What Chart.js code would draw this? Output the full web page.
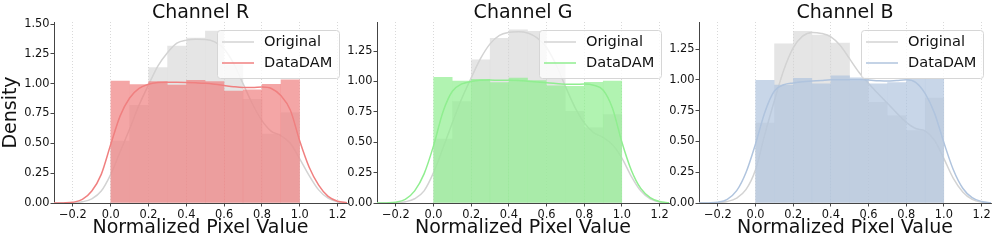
<!DOCTYPE html>
<html>
<head>
<meta charset="utf-8">
<script src="https://cdn.jsdelivr.net/npm/chart.js@4.4.1/dist/chart.umd.min.js"></script>
<style>
  html, body { margin: 0; padding: 0; background: #ffffff; width: 997px; height: 243px; overflow: hidden; }
  .panel { position: absolute; top: 0; height: 243px; }
  canvas { display: block; }
</style>
</head>
<body>
<div class="panel" style="left:0px;width:360px"><canvas id="c0" width="360" height="243"></canvas></div>
<div class="panel" style="left:327px;width:360px"><canvas id="c1" width="360" height="243"></canvas></div>
<div class="panel" style="left:649px;width:348px"><canvas id="c2" width="348" height="243"></canvas></div>
<script>
// ---------------- DATA ----------------
const channelTitles = ['Channel R', 'Channel G', 'Channel B'];
const seriesLabels = ['Original', 'DataDAM'];
const xAxisTitle = 'Normalized Pixel Value';
const yAxisTitle = 'Density';

const xTickValues = [-0.2, 0.0, 0.2, 0.4, 0.6, 0.8, 1.0, 1.2];
const yTickValuesR = [0, 0.25, 0.5, 0.75, 1.0, 1.25, 1.5];
const yTickValuesG = [0, 0.25, 0.5, 0.75, 1.0, 1.25];
const yTickValuesB = [0, 0.25, 0.5, 0.75, 1.0, 1.25];

// histogram bins (width 0.1, centers)
const binCenters = [0.05, 0.15, 0.25, 0.35, 0.45, 0.55, 0.65, 0.75, 0.85, 0.95];

const histOriginalR = [0.52, 0.82, 1.137, 1.316, 1.383, 1.442, 1.16, 0.87, 0.58, 0.757];
const histDataDamR  = [1.023, 0.995, 1.02, 0.99, 1.03, 1.02, 0.94, 0.95, 0.997, 1.033];
const histOriginalG = [0.528, 0.837, 1.18, 1.357, 1.426, 1.415, 1.15, 0.757, 0.62, 0.73];
const histDataDamG  = [1.036, 1.006, 1.02, 0.992, 1.03, 1.01, 0.967, 0.962, 0.995, 1.006];
const histOriginalB = [0.65, 1.295, 1.396, 1.366, 1.30, 0.99, 0.82, 0.71, 0.59, 0.854];
const histDataDamB  = [0.997, 0.96, 1.013, 0.97, 1.035, 1.019, 0.97, 0.98, 1.008, 1.013];

// KDE sample positions
const kdeX = [-0.3, -0.25, -0.2, -0.15, -0.1, -0.05, 0.0, 0.05, 0.1, 0.15, 0.2, 0.25, 0.3, 0.35, 0.4, 0.45,
              0.5, 0.55, 0.6, 0.65, 0.7, 0.75, 0.8, 0.85, 0.9, 0.95, 1.0, 1.05, 1.1, 1.15, 1.2, 1.25];

const kdeOriginalR = [0, 0, 0.002, 0.01, 0.035, 0.1, 0.24, 0.43, 0.62, 0.82, 0.99, 1.15, 1.26, 1.34, 1.365, 1.372,
                      1.37, 1.35, 1.29, 1.17, 1.0, 0.83, 0.69, 0.6, 0.565, 0.5, 0.37, 0.23, 0.11, 0.04, 0.01, 0.002];
const kdeDataDamR  = [0, 0.001, 0.006, 0.03, 0.1, 0.24, 0.49, 0.73, 0.88, 0.96, 0.995, 1.01, 1.013, 1.012, 1.01, 1.007,
                      1.003, 0.995, 0.985, 0.975, 0.968, 0.967, 0.972, 0.96, 0.9, 0.78, 0.52, 0.30, 0.15, 0.055, 0.015, 0.003];
const kdeOriginalG = [0, 0, 0.002, 0.01, 0.035, 0.1, 0.25, 0.45, 0.66, 0.86, 1.03, 1.19, 1.31, 1.38, 1.405, 1.41,
                      1.40, 1.36, 1.28, 1.14, 0.96, 0.79, 0.66, 0.58, 0.54, 0.48, 0.37, 0.22, 0.10, 0.035, 0.008, 0.001];
const kdeDataDamG  = [0, 0.001, 0.006, 0.03, 0.1, 0.24, 0.47, 0.75, 0.92, 0.98, 1.0, 1.01, 1.012, 1.01, 1.01, 1.008,
                      1.003, 0.997, 0.99, 0.983, 0.978, 0.977, 0.98, 0.97, 0.93, 0.78, 0.50, 0.27, 0.12, 0.045, 0.012, 0.003];
const kdeOriginalB = [0, 0, 0.003, 0.012, 0.04, 0.11, 0.27, 0.56, 0.83, 1.08, 1.26, 1.355, 1.385, 1.377, 1.35, 1.28,
                      1.17, 1.06, 0.97, 0.89, 0.81, 0.73, 0.655, 0.605, 0.585, 0.51, 0.36, 0.20, 0.09, 0.03, 0.007, 0.001];
const kdeDataDamB  = [0, 0.001, 0.006, 0.03, 0.1, 0.25, 0.48, 0.74, 0.91, 0.96, 0.975, 0.985, 0.99, 0.995, 1.0, 1.0,
                      1.0, 1.0, 0.998, 0.993, 0.99, 0.995, 1.0, 0.98, 0.89, 0.73, 0.49, 0.27, 0.12, 0.043, 0.012, 0.002];

// ---------------- STYLE / LAYOUT ----------------
const FONT = 'DejaVu Sans';
const greyRGB = [211, 211, 211];
const panels = [
  { canvas: 'c0', title: channelTitles[0], rgb: [240, 128, 128], yTicks: yTickValuesR, yMax: 1.517,
    histO: histOriginalR, histD: histDataDamR, kdeO: kdeOriginalR, kdeD: kdeDataDamR,
    yWidth: 54, padRight: 13, showYTitle: true },
  { canvas: 'c1', title: channelTitles[1], rgb: [144, 238, 144], yTicks: yTickValuesG, yMax: 1.49,
    histO: histOriginalG, histD: histDataDamG, kdeO: kdeOriginalG, kdeD: kdeDataDamG,
    yWidth: 50, padRight: 18, showYTitle: false },
  { canvas: 'c2', title: channelTitles[2], rgb: [176, 196, 222], yTicks: yTickValuesB, yMax: 1.47,
    histO: histOriginalB, histD: histDataDamB, kdeO: kdeOriginalB, kdeD: kdeDataDamB,
    yWidth: 50, padRight: 6, showYTitle: false }
];

const rgba = (c, a) => `rgba(${c[0]},${c[1]},${c[2]},${a})`;
const fmtX = v => (v < 0 ? '\u2212' : '') + Math.abs(v).toFixed(1);

const insideLegend = {
  id: 'insideLegend',
  afterDraw(chart, args, opts) {
    const ctx = chart.ctx, a = chart.chartArea;
    const w = 122, h = 48;
    const x = a.right - 8 - w, y = a.top + 8;
    ctx.save();
    ctx.beginPath();
    if (ctx.roundRect) ctx.roundRect(x + 0.5, y + 0.5, w, h, 3); else ctx.rect(x + 0.5, y + 0.5, w, h);
    ctx.fillStyle = 'rgba(255,255,255,0.8)';
    ctx.fill();
    ctx.lineWidth = 1;
    ctx.strokeStyle = '#d6d6d6';
    ctx.stroke();
    opts.items.forEach((it, i) => {
      const cy = y + 12 + i * 21;
      ctx.beginPath();
      ctx.moveTo(x + 5, cy);
      ctx.lineTo(x + 37, cy);
      ctx.lineWidth = 1.5;
      ctx.strokeStyle = it.color;
      ctx.stroke();
      ctx.fillStyle = '#111';
      ctx.font = `14.6px "${FONT}"`;
      ctx.textAlign = 'left';
      ctx.textBaseline = 'middle';
      ctx.fillText(it.text, x + 47, cy);
    });
    ctx.restore();
  }
};

const toXY = (xs, ys) => xs.map((x, i) => ({ x: x, y: ys[i] }));

panels.forEach(p => {
  const lineColor = rgba(p.rgb, 1);
  new Chart(document.getElementById(p.canvas), {
    type: 'bar',
    data: {
      datasets: [
        { type: 'bar', label: seriesLabels[0], data: toXY(binCenters, p.histO), order: 4,
          backgroundColor: rgba(greyRGB, 0.6), borderWidth: 0, grouped: false,
          barPercentage: 1, categoryPercentage: 1, inflateAmount: 0.15 },
        { type: 'line', label: seriesLabels[0], data: toXY(kdeX, p.kdeO), order: 3,
          borderColor: rgba(greyRGB, 1), borderWidth: 1.5, pointRadius: 0, cubicInterpolationMode: 'monotone', fill: false },
        { type: 'bar', label: seriesLabels[1], data: toXY(binCenters, p.histD), order: 2,
          backgroundColor: rgba(p.rgb, 0.7), borderWidth: 0, grouped: false,
          barPercentage: 1, categoryPercentage: 1, inflateAmount: 0.15 },
        { type: 'line', label: seriesLabels[1], data: toXY(kdeX, p.kdeD), order: 1,
          borderColor: lineColor, borderWidth: 1.5, pointRadius: 0, cubicInterpolationMode: 'monotone', fill: false }
      ]
    },
    options: {
      responsive: false,
      animation: false,
      devicePixelRatio: 1,
      layout: { padding: { left: 0, right: p.padRight, top: 0, bottom: 0 } },
      scales: {
        x: {
          type: 'linear', min: -0.3, max: 1.25, offset: false,
          afterBuildTicks: s => { s.ticks = xTickValues.map(v => ({ value: v })); },
          afterFit: s => { s.height = 40; },
          ticks: { font: { family: FONT, size: 11.4 }, color: '#111', padding: 1.5, maxRotation: 0, autoSkip: false,
                   callback: v => fmtX(v) },
          grid: { offset: false, color: '#cfcfcf', lineWidth: 0.8, tickLength: 3.5, tickColor: '#444', tickWidth: 1 },
          border: { color: '#444', width: 1, dash: [1, 2] },
          title: { display: true, text: xAxisTitle, font: { family: FONT, size: 19, lineHeight: 1.2 }, color: '#111',
                   padding: { top: 0, bottom: 3.2 } }
        },
        y: {
          type: 'linear', min: 0, max: p.yMax,
          afterBuildTicks: s => { s.ticks = p.yTicks.map(v => ({ value: v })); },
          afterFit: s => { s.width = p.yWidth; },
          ticks: { font: { family: FONT, size: 11.4 }, color: '#111', padding: 1,
                   callback: v => v.toFixed(2) },
          grid: { drawOnChartArea: false, tickLength: 3.5, tickColor: '#444', tickWidth: 1 },
          border: { color: '#444', width: 1 },
          title: { display: p.showYTitle, text: yAxisTitle, font: { family: FONT, size: 19, lineHeight: 1.2 }, color: '#111',
                   padding: { top: 0, bottom: 0 } }
        }
      },
      plugins: {
        legend: { display: false },
        tooltip: { enabled: false },
        title: { display: true, text: p.title, fullSize: false, color: '#111',
                 font: { family: FONT, size: 19, weight: 'normal', lineHeight: 0.8 },
                 padding: { top: 5.8, bottom: 1 } },
        insideLegend: { items: [ { text: seriesLabels[0], color: rgba(greyRGB, 1) },
                                 { text: seriesLabels[1], color: lineColor } ] }
      }
    },
    plugins: [insideLegend]
  });
});
</script>
</body>
</html>
